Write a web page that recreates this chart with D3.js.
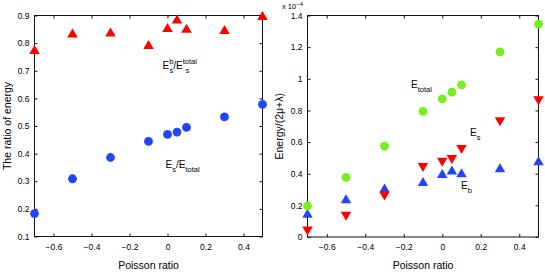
<!DOCTYPE html>
<html><head><meta charset="utf-8">
<script src="https://cdn.jsdelivr.net/npm/d3@7"></script>
<style>
body{margin:0;background:#fff;}
svg text{font-family:"Liberation Sans",Arial,Helvetica,sans-serif;fill:#000;}
</style></head>
<body><svg id="c" width="545" height="274"></svg>
<script>
// Data
const poisson = [-0.7, -0.5, -0.3, -0.1, 0, 0.05, 0.1, 0.3, 0.5];
// Left panel: ratios
const ratioBending = [0.777, 0.837, 0.84, 0.795, 0.857, 0.887, 0.854, 0.849, 0.9]; // Es^b/Es^total
const ratioStretch = [0.183, 0.309, 0.386, 0.444, 0.47, 0.478, 0.495, 0.533, 0.578]; // Es/Etotal
// Right panel: energies (units of 1e-4)
const eTotal = [0.196, 0.377, 0.574, 0.794, 0.873, 0.915, 0.962, 1.17, 1.345];
const eS = [0.038, 0.131, 0.259, 0.44, 0.473, 0.49, 0.553, 0.728, 0.861];
const eB = [0.15, 0.241, 0.309, 0.351, 0.402, 0.423, 0.406, 0.437, 0.482];
const xTicks = [-0.6, -0.4, -0.2, 0, 0.2, 0.4];
const leftYTicks = [0.1, 0.2, 0.3, 0.4, 0.5, 0.6, 0.7, 0.8, 0.9];
const rightYTicks = [0, 0.2, 0.4, 0.6, 0.8, 1, 1.2, 1.4];

const svg = d3.select("#c");
const RED = "#ff0000", BLUE = "#2244ff", GREEN = "#77ee22";
const fmt = v => (v < 0 ? "\u2212" : "") + String(Math.abs(+v.toFixed(2)));

function triPath(up, w = 10.5, h = 9) {
  return up ? `M0,${-h/2}L${w/2},${h/2}L${-w/2},${h/2}Z` : `M0,${h/2}L${w/2},${-h/2}L${-w/2},${-h/2}Z`;
}

function panel(o) {
  const g = svg.append("g");
  const x = d3.scaleLinear().domain([-0.7, 0.5]).range([o.x0, o.x1]);
  const y = d3.scaleLinear().domain(o.ydom).range([o.y1, o.y0]);
  g.append("rect").attr("x", o.x0).attr("y", o.y0).attr("width", o.x1 - o.x0).attr("height", o.y1 - o.y0)
    .attr("fill", "none").attr("stroke", "#111").attr("stroke-width", 1);
  const ax = d3.axisBottom(x).tickValues(xTicks).tickSize(-3).tickPadding(7).tickFormat(fmt);
  const ay = d3.axisLeft(y).tickValues(o.yticks).tickSize(-3).tickPadding(5).tickFormat(fmt);
  const axT = d3.axisTop(x).tickValues(xTicks).tickSize(-3).tickFormat("");
  const ayR = d3.axisRight(y).tickValues(o.yticks).tickSize(-3).tickFormat("");
  const styleAxis = s => { s.select(".domain").remove(); s.selectAll("line").attr("stroke", "#111");
    s.selectAll("text").style("font-size", "8.5px").style("font-family", "Liberation Sans, Arial, sans-serif"); };
  g.append("g").attr("transform", `translate(0,${o.y1})`).call(ax).call(styleAxis);
  g.append("g").attr("transform", `translate(${o.x0},0)`).call(ay).call(styleAxis);
  g.append("g").attr("transform", `translate(0,${o.y0})`).call(axT).call(styleAxis);
  g.append("g").attr("transform", `translate(${o.x1},0)`).call(ayR).call(styleAxis);
  g.append("text").attr("x", (o.x0 + o.x1) / 2).attr("y", 269).attr("text-anchor", "middle")
    .style("font-size", "10.5px").text("Poisson ratio");
  g.append("text").attr("transform", `translate(${o.ylabX},${(o.y0 + o.y1) / 2}) rotate(-90)`)
    .attr("text-anchor", "middle").style("font-size", "10.5px").text(o.ylabel);
  return {g, x, y};
}

// Left panel
const L = panel({x0: 34.5, x1: 262.5, y0: 15.5, y1: 236.5, ydom: [0.1, 0.9], yticks: leftYTicks,
  ylabel: "The ratio of energy", ylabX: 10.5});
L.g.selectAll(".tu").data(poisson).enter().append("path")
  .attr("d", triPath(true)).attr("fill", RED)
  .attr("transform", (d, i) => `translate(${L.x(d)},${L.y(ratioBending[i])})`);
L.g.selectAll(".cb").data(poisson).enter().append("circle")
  .attr("cx", d => L.x(d)).attr("cy", (d, i) => L.y(ratioStretch[i])).attr("r", 4.4).attr("fill", BLUE);

// Right panel
const R = panel({x0: 307.5, x1: 538.5, y0: 15.5, y1: 237, ydom: [0, 1.4], yticks: rightYTicks,
  ylabel: "Energy/(2\u03bc+\u03bb)", ylabX: 283});
R.g.selectAll(".bt").data(poisson).enter().append("path")
  .attr("d", triPath(true)).attr("fill", BLUE)
  .attr("transform", (d, i) => `translate(${R.x(d)},${R.y(eB[i])})`);
R.g.selectAll(".rt").data(poisson).enter().append("path")
  .attr("d", triPath(false)).attr("fill", RED)
  .attr("transform", (d, i) => `translate(${R.x(d)},${R.y(eS[i])})`);
R.g.selectAll(".gc").data(poisson).enter().append("circle")
  .attr("cx", d => R.x(d)).attr("cy", (d, i) => R.y(eTotal[i])).attr("r", 4.4).attr("fill", GREEN);

// exponent label
const ex = svg.append("text").attr("x", 282).attr("y", 9).style("font-size", "7.5px");
ex.append("tspan").text("x 10");
ex.append("tspan").attr("dy", -3).style("font-size", "6px").text("\u22124");

// annotations
function annot(x, y, parts) {
  const t = svg.append("text").attr("x", x).attr("y", y).style("font-size", "10px");
  let cur = 0;
  parts.forEach(p => {
    const shift = p.s === "sub" ? 4 : p.s === "sup" ? -5 : 0;
    const ts = t.append("tspan").text(p.t);
    if (p.s) ts.style("font-size", "7.5px");
    if (p.x !== undefined) ts.attr("x", x + p.x);
    ts.attr("dy", shift - cur);
    cur = shift;
  });
}
annot(162.5, 69, [{t: "E"}, {t: "b", s: "sup"}, {t: "s", s: "sub", x: 7}, {t: "/E"}, {t: "total", s: "sup"}, {t: "s", s: "sub", x: 23}]);
annot(165.5, 168, [{t: "E"}, {t: "s", s: "sub"}, {t: "/E"}, {t: "total", s: "sub"}]);
annot(411, 87.5, [{t: "E"}, {t: "total", s: "sub"}]);
annot(470, 135.5, [{t: "E"}, {t: "s", s: "sub"}]);
annot(461, 188.5, [{t: "E"}, {t: "b", s: "sub"}]);
</script></body></html>
